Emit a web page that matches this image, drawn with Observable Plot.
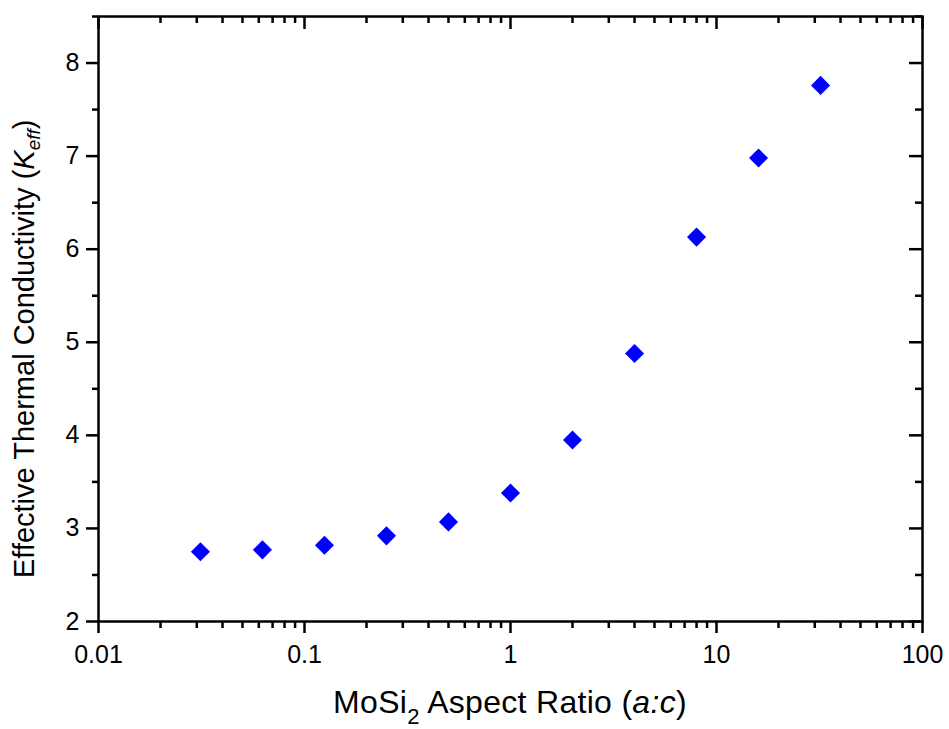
<!DOCTYPE html>
<html><head><meta charset="utf-8">
<script src="https://cdn.jsdelivr.net/npm/d3@7"></script>
<script src="https://cdn.jsdelivr.net/npm/@observablehq/plot@0.6"></script>
<style>body{margin:0;background:#fff;} #chart svg{display:block;}</style>
</head><body><div id="chart"></div>
<script>
// Data
const aspectRatio = [0.03125, 0.0625, 0.125, 0.25, 0.5, 1, 2, 4, 8, 16, 32];
const kEff = [2.75, 2.77, 2.82, 2.92, 3.07, 3.38, 3.95, 4.88, 6.13, 6.98, 7.76];

// Axis ticks
const xMajorTicks = [0.01, 0.1, 1, 10, 100];
const xTickLabels = ["0.01", "0.1", "1", "10", "100"];
const xMinorTicks = [0.02, 0.03, 0.04, 0.05, 0.06, 0.07, 0.08, 0.09,
                     0.2, 0.3, 0.4, 0.5, 0.6, 0.7, 0.8, 0.9,
                     2, 3, 4, 5, 6, 7, 8, 9,
                     20, 30, 40, 50, 60, 70, 80, 90];
const yMajorTicks = [2, 3, 4, 5, 6, 7, 8];
const yTickLabels = ["2", "3", "4", "5", "6", "7", "8"];
const yMinorTicks = [2.5, 3.5, 4.5, 5.5, 6.5, 7.5, 8.5];

const data = aspectRatio.map((x, i) => ({x, y: kEff[i]}));

const W = 949, H = 729, mL = 98, mT = 16, mR = 27, mB = 108;
const fw = W - mL - mR, fh = H - mT - mB;
const font = "'Liberation Sans', Arial, Helvetica, sans-serif";
const sw = 2.5;

const plot = Plot.plot({
  width: W, height: H,
  marginLeft: mL, marginTop: mT, marginRight: mR, marginBottom: mB,
  style: {fontFamily: font, background: "#fff", color: "#000", overflow: "visible"},
  x: {type: "log", domain: [0.01, 100]},
  y: {domain: [2, 8.5]},
  marks: [
    Plot.frame({stroke: "#000", strokeWidth: sw}),
    // bottom axis (outward)
    Plot.axisX(xMajorTicks, {anchor: "bottom", tickSize: 12, tickPadding: 12, fontSize: 25,
      strokeWidth: sw, label: null, tickFormat: d => xTickLabels[xMajorTicks.indexOf(d)]}),
    Plot.tickX(xMinorTicks, {x: d => d, insetTop: fh, insetBottom: -7, stroke: "#000", strokeWidth: sw}),
    // top axis (inward)
    Plot.tickX(xMajorTicks, {x: d => d, insetBottom: fh - 13, stroke: "#000", strokeWidth: sw}),
    Plot.tickX(xMinorTicks, {x: d => d, insetBottom: fh - 7, stroke: "#000", strokeWidth: sw}),
    // left axis (outward)
    Plot.axisY(yMajorTicks, {anchor: "left", tickSize: 12, tickPadding: 7, fontSize: 25,
      strokeWidth: sw, label: null, tickFormat: d => yTickLabels[yMajorTicks.indexOf(d)]}),
    Plot.tickY(yMinorTicks, {y: d => d, insetLeft: -6, insetRight: fw, stroke: "#000", strokeWidth: sw}),
    // right axis (inward)
    Plot.tickY(yMajorTicks, {y: d => d, insetLeft: fw - 13, stroke: "#000", strokeWidth: sw}),
    Plot.tickY(yMinorTicks, {y: d => d, insetLeft: fw - 7, stroke: "#000", strokeWidth: sw}),
    // data
    Plot.dot(data, {x: "x", y: "y", symbol: "diamond2", r: 8.6, fill: "#0000ff", stroke: "none"})
  ]
});

document.getElementById("chart").appendChild(plot);

const svg = d3.select(plot);
// X title
const xt = svg.append("text")
  .attr("x", mL + fw / 2).attr("y", 713)
  .attr("text-anchor", "middle")
  .attr("font-family", font).attr("font-size", 32).attr("letter-spacing", 0.3)
  .attr("fill", "#000");
xt.append("tspan").text("MoSi");
xt.append("tspan").attr("font-size", 22).attr("dy", 11).text("2");
xt.append("tspan").attr("dy", -11).text(" Aspect Ratio (");
xt.append("tspan").attr("font-style", "italic").text("a:c");
xt.append("tspan").text(")");

// Y title
const yt = svg.append("text")
  .attr("transform", "translate(34,578) rotate(-90)")
  .attr("text-anchor", "start")
  .attr("font-family", font).attr("font-size", 29)
  .attr("fill", "#000");
yt.append("tspan").text("Effective Thermal Conductivity (");
yt.append("tspan").attr("font-style", "italic").text("K");
yt.append("tspan").attr("font-style", "italic").attr("font-size", 19).attr("dy", 6).text("eff");
yt.append("tspan").attr("dy", -6).text(")");
</script>
</body></html>
